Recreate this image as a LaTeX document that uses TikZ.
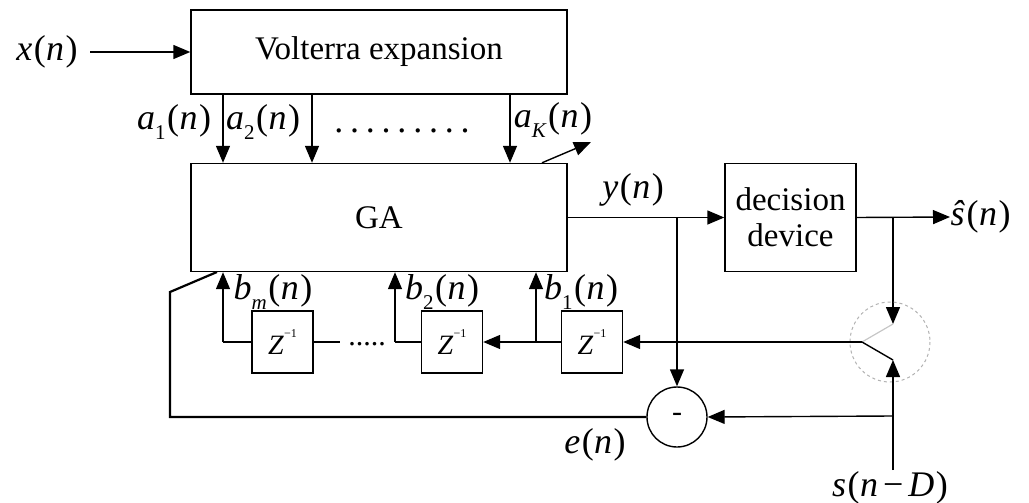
\documentclass[tikz,border=0pt]{standalone}
\usepackage{fontspec}
\setmainfont{Liberation Serif}
\usetikzlibrary{arrows.meta}
\newcommand\msub[1]{\raisebox{-0.28em}{\fontsize{21}{22}\selectfont #1}}
\newcommand\zinv{\textit{Z}\raisebox{0.6em}{\fontsize{12}{12}\selectfont −1}}
\newcommand\ofn{\kern1.5pt(\kern0.5pt\textit{n}\kern1.5pt)}
\begin{document}
\begin{tikzpicture}[x=1pt,y=-1pt, line width=1.4pt,
  >={Triangle[length=17pt,width=14pt]},
  blk/.style={draw, rectangle, inner sep=0pt, align=center, font=\fontsize{33}{40}\selectfont},
  zbox/.style={draw, rectangle, inner sep=0pt, minimum width=61pt, minimum height=62pt, font=\fontsize{28}{30}\selectfont},
  lbl/.style={inner sep=0pt, font=\fontsize{36}{40}\selectfont},
  fb/.style={line width=2.2pt},
  ghost/.style={gray!45, line width=1.2pt}]
\useasboundingbox (0,0) rectangle (1029,503);

% blocks
\node[blk, minimum width=376pt, minimum height=84pt] (vol) at (379,52) {Volterra expansion};
\node[blk, minimum width=376pt, minimum height=108pt] (ga) at (379,217.5) {GA};
\node[blk, minimum width=131pt, minimum height=108pt] (dec) at (790.5,217.5) {decision\\[-4pt]device};
\node[zbox] (z1) at (282.5,342) {\zinv};
\node[zbox] (z2) at (452,342) {\zinv};
\node[zbox] (z3) at (592,342) {\zinv};
\node[draw, circle, minimum size=60pt, inner sep=0pt, font=\fontsize{30}{30}\selectfont] (minus) at (677,417) {-};

% labels
\node[lbl] (xn) at (47,52) {\textit{x}\ofn};
\node[lbl] (a1) at (174,122) {\textit{a}\msub{1}\ofn};
\node[lbl] (a2) at (263,122) {\textit{a}\msub{2}\ofn};
\node[lbl, anchor=base] (dots) at (402,132) {.\hspace{6.8pt}.\hspace{6.8pt}.\hspace{6.8pt}.\hspace{6.8pt}.\hspace{6.8pt}.\hspace{6.8pt}.\hspace{6.8pt}.\hspace{6.8pt}.};
\node[lbl] (ak) at (553,120) {\textit{a}\msub{\textit{K}}\ofn};
\node[lbl] (yn) at (633,190) {\textit{y}\ofn};
\node[lbl, anchor=west] (sh) at (950,217) {\textit{ŝ}\ofn};
\node[lbl] (bm) at (273,292) {\textit{b}\msub{\textit{m}}\ofn};
\node[lbl] (b2) at (442,292) {\textit{b}\msub{2}\ofn};
\node[lbl] (b1) at (581,292) {\textit{b}\msub{1}\ofn};
\node[lbl] (en) at (595,445) {\textit{e}\ofn};
\node[lbl] (snd) at (890,488) {\textit{s}\kern1.5pt(\kern0.5pt\textit{n}\kern5pt−\kern5pt\textit{D}\kern1.5pt)};

% coordinates
\coordinate (c1) at (223,0);
\coordinate (c2) at (312,0);
\coordinate (ck) at (510,0);
\coordinate (ad0) at (542,0);
\coordinate (adapt) at (591,142);
\coordinate (j1) at (677,217.5);
\coordinate (j2) at (893,217.5);
\coordinate (swtop) at (893,324);
\coordinate (pivot) at (862,342);
\coordinate (swbot) at (893,360);
\coordinate (sbot) at (893,470);
\coordinate (j6) at (893,416);
\coordinate (j3) at (536,342);
\coordinate (j4) at (395,342);
\coordinate (j5) at (223,342);
\coordinate (d1) at (340,342);
\coordinate (f1) at (170,417);
\coordinate (f2) at (170,292);
\coordinate (f3) at (217,272);

% top connections
\draw[->, shorten <=12pt] (xn.east) -- (vol.west);
\draw[->] (c1 |- vol.south) -- (c1 |- ga.north);
\draw[->] (c2 |- vol.south) -- (c2 |- ga.north);
\draw[->] (ck |- vol.south) -- (ck |- ga.north);
\draw[->] (ad0 |- ga.north) -- (adapt);

% output side
\draw[->] (ga.east) -- (dec.west);
\draw[->] (j1) -- (minus.north);
\draw[->] (dec.east) -- (sh.west);
\draw[->] (j2) -- (swtop);

% switch
\draw[gray!60, dashed, line width=1pt] (890,342) circle (40);
\draw[ghost] (pivot) -- (swtop);
\draw (pivot) -- (swbot);
\draw[->] (sbot) -- (swbot);
\draw[->] (j6) -- (minus.east);

% delay chain
\draw[->] (pivot) -- (z3.east);
\draw[->] (z3.west) -- (z2.east);
\draw[->] (j3) -- (j3 |- ga.south);
\draw (z2.west) -- (j4);
\draw[->] (j4) -- (j4 |- ga.south);
\draw (z1.east) -- (d1);
\node[lbl, anchor=base, font=\fontsize{30}{30}\selectfont] (zdots) at (367,345) {.....};
\draw (z1.west) -- (j5);
\draw[->] (j5) -- (j5 |- ga.south);

% error feedback
\draw[fb] (minus.west) -- (f1) -- (f2) -- (f3);
\end{tikzpicture}
\end{document}
